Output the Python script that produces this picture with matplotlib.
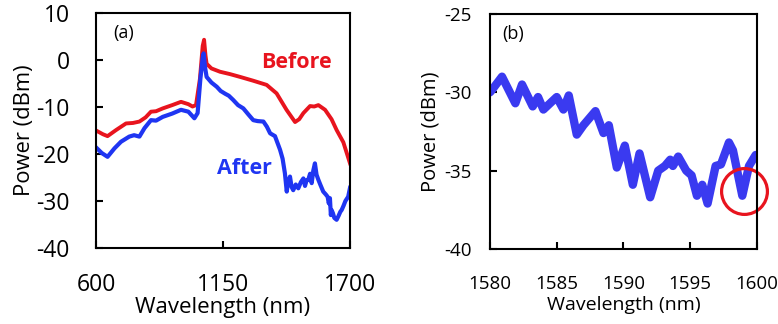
import matplotlib
matplotlib.use('Agg')
import matplotlib.pyplot as plt

plt.rcParams['font.family'] = ['Open Sans', 'DejaVu Sans']
plt.rcParams['axes.unicode_minus'] = False

# panel (a): broadband spectra
wl_before = [600, 630, 650, 687, 730, 760, 788, 815, 838, 860, 889, 930, 968, 1000, 1018, 1033,
             1050, 1062, 1068, 1074, 1079, 1100, 1137, 1180, 1224, 1280, 1339, 1382, 1425,
             1462, 1480, 1498, 1527, 1545, 1563, 1592, 1620, 1642, 1671, 1700]
p_before = [-15.0, -15.8, -16.2, -14.9, -13.5, -13.4, -13.1, -12.2, -11.0, -10.9, -10.3, -9.6, -8.9,
            -9.4, -9.9, -9.6, -4.0, 3.0, 4.3, 1.0, -0.8, -1.8, -2.5, -3.0, -3.6, -4.4, -5.3, -7.1,
            -10.6, -13.2, -12.6, -11.3, -9.8, -9.9, -9.6, -10.6, -12.6, -14.9, -17.5, -22.0]

wl_after = [600, 625, 650, 680, 708, 744, 765, 788, 810, 838, 860, 889, 930, 968, 1000, 1026,
            1040, 1052, 1062, 1066, 1072, 1079, 1100, 1123, 1140, 1160, 1175, 1194, 1215, 1238,
            1260, 1281, 1300, 1325, 1340, 1354, 1375, 1397, 1408, 1418, 1426, 1432, 1440, 1447,
            1454, 1465, 1476, 1487, 1498, 1505, 1512, 1519, 1527, 1534, 1541, 1548, 1555, 1563,
            1572, 1584, 1595, 1603, 1608, 1613, 1617, 1620, 1626, 1632, 1642, 1650, 1658, 1664,
            1672, 1680, 1692, 1700]
p_after = [-18.6, -19.8, -20.6, -18.8, -17.4, -16.3, -16.0, -16.3, -14.5, -12.8, -12.9, -12.1, -11.4,
           -10.6, -11.0, -12.4, -11.3, -4.0, 0.5, 1.4, -1.5, -3.6, -4.8, -5.7, -6.6, -7.2, -7.6,
           -8.5, -9.6, -10.3, -11.6, -12.8, -13.0, -13.1, -14.2, -15.6, -16.2, -19.1, -21.0,
           -24.1, -28.0, -26.0, -24.8, -27.0, -27.7, -26.5, -27.3, -26.0, -25.2, -26.8, -25.6,
           -25.5, -24.2, -26.2, -23.5, -22.0, -24.4, -25.5, -26.6, -28.0, -28.6, -29.1, -30.5,
           -29.4, -33.0, -31.9, -32.6, -33.6, -34.0, -33.2, -32.3, -31.9, -31.0, -30.0, -29.1, -27.2]

# panel (b): zoom around 1580-1600 nm
wl_zoom = [1580.0, 1580.1, 1580.9, 1581.9, 1582.4, 1583.2, 1583.6, 1584.0, 1585.0, 1585.5, 1585.9,
           1586.5, 1587.0, 1587.9, 1588.5, 1588.9, 1589.5, 1590.1, 1590.7, 1591.2, 1592.0, 1592.6,
           1593.1, 1593.5, 1593.7, 1594.1, 1594.7, 1595.1, 1595.5, 1595.9, 1596.3, 1596.9, 1597.3,
           1597.9, 1598.2, 1598.9, 1599.4, 1599.9]
p_zoom = [-30.0, -29.9, -29.0, -30.7, -29.5, -30.9, -30.3, -31.1, -30.3, -31.1, -30.2, -32.7, -32.1,
          -31.2, -32.6, -32.1, -34.8, -33.4, -35.9, -33.9, -36.7, -35.0, -34.7, -34.3, -34.7, -34.1,
          -35.0, -35.3, -36.6, -35.9, -37.1, -34.7, -34.6, -33.2, -33.7, -36.6, -34.7, -34.0]
dip_wl = [1599.05]
dip_p = [-36.3]

red = '#e8141e'
blue = '#1f35f2'
blue_b = '#3a3af0'

fig = plt.figure(figsize=(7.78, 3.24), dpi=100)
ax1 = fig.add_axes([0.1234, 0.2346, 0.3265, 0.7253])
ax2 = fig.add_axes([0.6298, 0.2315, 0.3432, 0.7253])

for ax in (ax1, ax2):
    for s in ax.spines.values():
        s.set_linewidth(1.5)
    ax.tick_params(direction='in', length=5, width=1.5, top=False, right=False)

ax1.plot(wl_before, p_before, color=red, lw=2.8, solid_joinstyle='round')
ax1.plot(wl_after, p_after, color=blue, lw=3.0, solid_joinstyle='round')
ax1.set_xlim(600, 1700)
ax1.set_ylim(-40, 10)
ax1.set_xticks([600, 1150, 1700])
ax1.set_yticks([-40, -30, -20, -10, 0, 10])
ax1.tick_params(labelsize=16.5)
ax1.tick_params(axis='x', pad=18)
ax1.tick_params(axis='y', pad=19)
ax1.text(1466, -0.6, 'Before', color=red, fontsize=15.5, fontweight='bold', ha='center', va='center')
ax1.text(1241, -23, 'After', color=blue, fontsize=15.5, fontweight='bold', ha='center', va='center')
ax1.text(0.067, 0.915, '(a)', transform=ax1.transAxes, fontsize=13, ha='left', va='center')
ax1.set_ylabel('Power (dBm)', fontsize=15.8, labelpad=1)
ax1.set_xlabel('Wavelength (nm)', fontsize=16, labelpad=0)

ax2.plot(wl_zoom, p_zoom, color=blue_b, lw=6, solid_joinstyle='round', solid_capstyle='round')
ax2.plot(dip_wl, dip_p, 'o', ms=33, mfc='none', mec=red, mew=2.3, clip_on=False)
ax2.set_xlim(1580, 1600)
ax2.set_ylim(-40, -25)
ax2.set_xticks([1580, 1585, 1590, 1595, 1600])
ax2.set_yticks([-40, -35, -30, -25])
ax2.tick_params(labelsize=13.5)
ax2.tick_params(axis='x', pad=19)
ax2.tick_params(axis='y', pad=13)
ax2.text(0.045, 0.915, '(b)', transform=ax2.transAxes, fontsize=13, ha='left', va='center')
ax2.set_ylabel('Power (dBm)', fontsize=14.5, labelpad=3)
ax2.set_xlabel('Wavelength (nm)', fontsize=14, labelpad=2)

fig.savefig('out.png', dpi=100)
